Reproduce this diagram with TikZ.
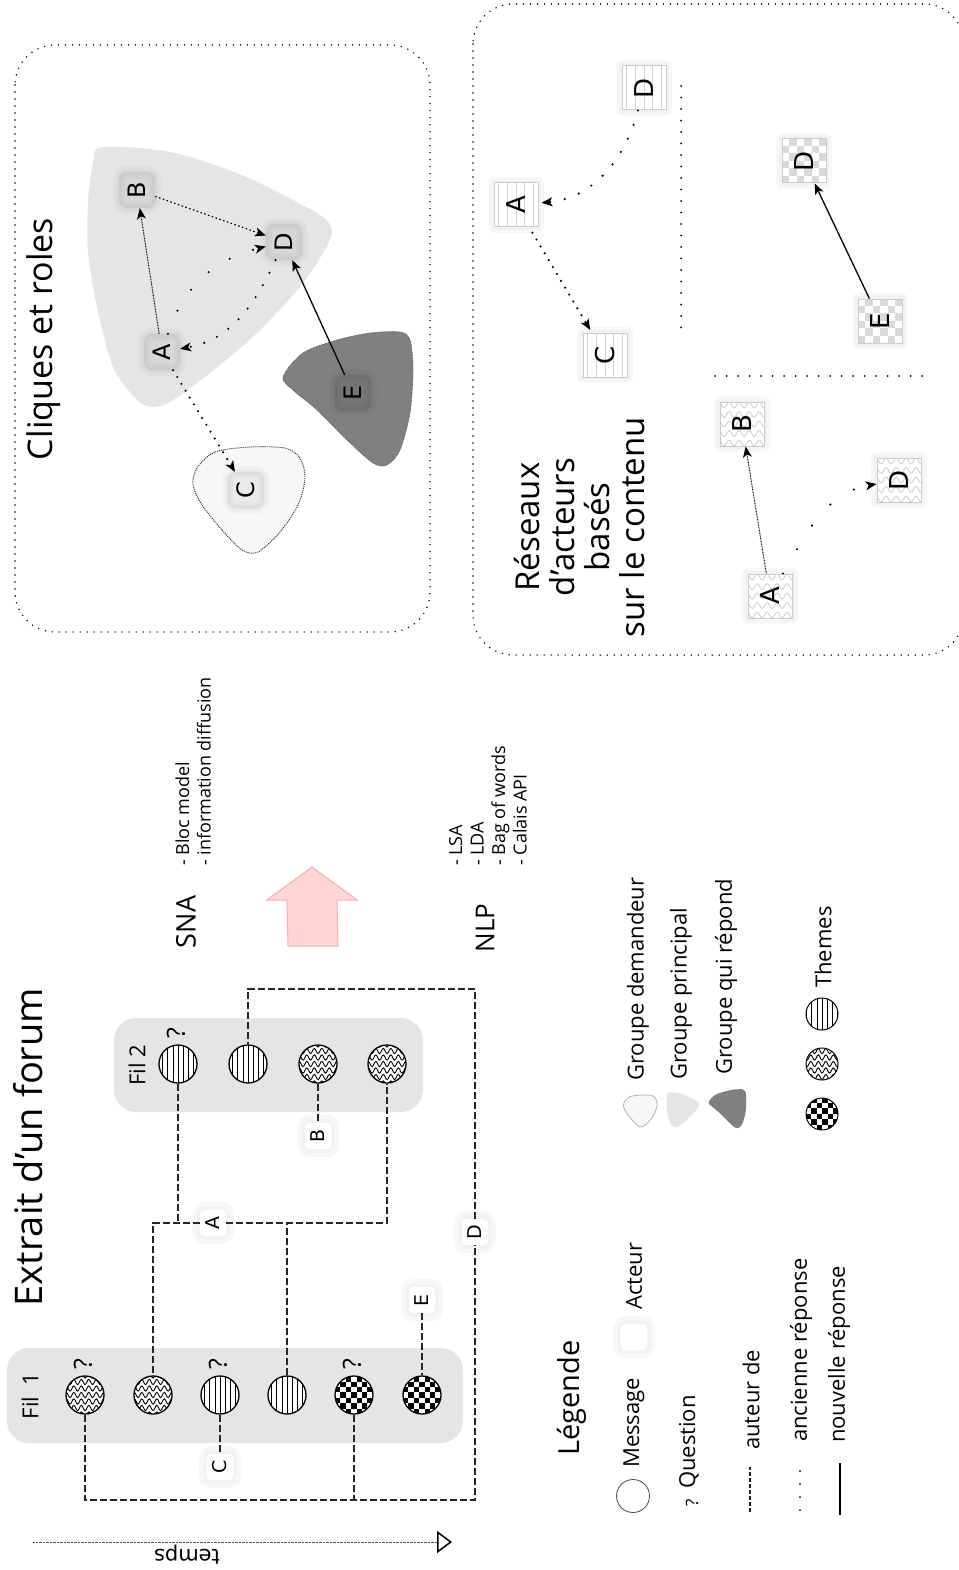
\documentclass[tikz,border=0pt]{standalone}
\usepackage{fontspec}
\setmainfont{Open Sans}
\newfontfamily\lettres{DejaVu Sans}
\usetikzlibrary{arrows.meta,decorations.pathmorphing}

\definecolor{rose}{HTML}{FFD5D5}
\definecolor{roseb}{HTML}{FFAAAA}

\newcommand\rot[1]{\rotatebox{90}{#1}}
\newcommand\taille[1]{\fontsize{#1}{#1}\selectfont}

\tikzset{
  % textes tournes
  texte/.style={rotate=90, inner sep=0pt, font=\taille{22}},
  liste/.style={rotate=90, inner sep=0pt, anchor=west, align=left, font=\fontsize{18}{21.5}\selectfont},
  question/.style={texte, font=\taille{25}},
  % motifs
  rayures/.style 2 args={path picture={\foreach \k in {-6,...,6}
      \draw[#1] ([xshift=\k*#2]path picture bounding box.center) ++(0pt,-40pt) -- ++(0pt,80pt);}},
  damier/.style 2 args={path picture={\foreach \i in {0,...,9} \foreach \j in {0,...,9} {
      \pgfmathtruncatemacro\m{mod(\i+\j,2)}
      \ifnum\m=0 \fill[#1] ([shift={(\i*#2,\j*#2)}]path picture bounding box.south west) rectangle +(#2,#2);\fi}}},
  vagues/.style 2 args={path picture={\foreach \k in {-5,...,5}
      \draw[decorate, #1] ([yshift=\k*#2]path picture bounding box.center) ++(-36pt,0pt) -- ++(72pt,0pt);}},
  ry/.style={rayures={line width=.5pt}{5.2pt}},
  dm/.style={damier={black}{5.4pt}},
  vg/.style={vagues={line width=.9pt, decoration={snake, segment length=7.5pt, amplitude=2.6pt}}{6.5pt}},
  rry/.style={rayures={black!18, line width=.8pt}{8.7pt}},
  rdm/.style={damier={black!15}{7.4pt}},
  rvg/.style={vagues={black!20, line width=.8pt, decoration={snake, segment length=10pt, amplitude=3pt}}{9.5pt}},
  % noeuds
  message/.style={circle, draw, line width=1.3pt, fill=white, minimum size=38pt, inner sep=0pt},
  facteur/.style={fill=white, rounded corners=4pt, minimum size=26pt, inner sep=0pt, font=\lettres\taille{19},
    preaction={draw=black!3, line width=16pt, line join=round},
    preaction={draw=black!5, line width=7pt, line join=round}},
  cnoeud/.style={fill=black, fill opacity=#1, text opacity=1, rounded corners=8pt, minimum size=36pt, inner sep=0pt,
    font=\lettres\taille{24},
    preaction={draw=black, draw opacity=.025, line width=12pt, line join=round},
    preaction={draw=black, draw opacity=.03, line width=5pt, line join=round}},
  rnoeud/.style={draw=black!20, line width=1pt, fill=white, minimum size=44pt, inner sep=0pt, font=\lettres\taille{26},
    preaction={draw=black!3, line width=12pt, line join=round},
    preaction={draw=black!5, line width=6pt}},
  % liens
  fleche/.style={-{Stealth[length=11pt, width=9pt, inset=3pt, line width=1pt]}},
  auteur/.style={line width=1.5pt, black!85, dash pattern=on 7pt off 3pt},
  nouveau/.style={fleche, line width=1.3pt},
  fin/.style={fleche, line width=1pt, dash pattern=on .8pt off .8pt},
  pointille/.style={fleche, line width=1.2pt, dash pattern=on 1.5pt off 2.5pt},
  pointsep/.style={line width=2.4pt, line cap=round, dash pattern=on 0pt off #1},
  ancien/.style={fleche, pointsep=#1},
  cadre/.style={line width=1.6pt, line cap=round, dash pattern=on 0pt off 7pt, rounded corners=40pt},
  separation/.style={line width=2pt, line cap=round, dash pattern=on 0pt off 11.5pt},
  temps/.style={line width=.8pt, black!70, dash pattern=on .8pt off .6pt,
    -{Triangle[open, length=15pt, width=22pt, line width=1.5pt, color=black]}},
  % formes des groupes
  pics/formeB/.style={code={\path[pic actions] plot[smooth cycle, tension=.5] coordinates {(-108,-130) (-40,-125) (27,-104) (77,-80) (113,-60) (122,-45) (113,-24) (90,10) (47,56) (0,96) (-40,125) (-58,130) (-73,123) (-97,90) (-113,30) (-122,-24) (-122,-74) (-117,-114)};}},
  pics/formeE/.style={code={\path[pic actions] plot[smooth cycle, tension=.5] coordinates {(-67,-23) (-47,-47) (-13,-60) (20,-67) (50,-68) (60,-60) (63,-30) (60,13) (50,50) (37,65) (23,63) (-3,40) (-33,10) (-57,-10)};}},
  pics/formeC/.style={code={\path[pic actions] plot[smooth cycle, tension=.5] coordinates {(-51,-32) (-33,-48) (2,-53) (37,-52) (52,-42) (57,-22) (50,5) (32,32) (10,52) (-6,50) (-26,30) (-46,5) (-55,-15)};}},
}

\begin{document}
\begin{tikzpicture}[x=1pt, y=-1pt]
\useasboundingbox (0,0) rectangle (958,1570);

% extrait du forum
\node[texte, font=\taille{38}] (titreforum) at (28,1147) {Extrait d'un forum};
\fill[black!10, rounded corners=22pt] (7,1348) rectangle (463,1443);
\fill[black!10, rounded corners=22pt] (114,1018) rectangle (423,1112);
\node[texte] (fil1) at (30,1396) {Fil~~1};
\node[texte] (fil2) at (137,1065) {Fil 2};
\foreach \n/\x/\m in {1/85/vg, 2/153/vg, 3/220/ry, 4/287/ry, 5/354/dm, 6/422/dm}
  \node[message, \m] (f1m\n) at (\x,1395) {};
\foreach \n/\x/\m in {1/178/ry, 2/248/ry, 3/318/vg, 4/387/vg}
  \node[message, \m] (f2m\n) at (\x,1064) {};
\foreach \c in {f1m1, f1m3, f1m5, f2m1}
  \node[question] (q\c) at ([xshift=-2pt, yshift=31pt]\c) {?};

\node[facteur] (fa) at (213,1223) {\rot{A}};
\node[facteur] (fb) at (318,1136) {\rot{B}};
\node[facteur] (fc) at (220,1467) {\rot{C}};
\node[facteur] (fd) at (475,1232) {\rot{D}};
\node[facteur] (fe) at (422,1300) {\rot{E}};
\coordinate (bd) at (475,1500);
\coordinate (hd) at (475,989);

\draw[auteur] (f1m1) |- (bd) -- (fd);
\draw[auteur] (f1m5) -- (f1m5 |- bd);
\draw[auteur] (fd) -- (hd) -| (f2m2);
\draw[auteur] (fa) -| (f1m2);
\draw[auteur] (fa) -| (f2m4);
\draw[auteur] (f2m1) -- (f2m1 |- fa);
\draw[auteur] (f1m4) -- (f1m4 |- fa);
\draw[auteur] (f2m3) -- (fb);
\draw[auteur] (f1m3) -- (fc);
\draw[auteur] (fe) -- (f1m6);

\coordinate (t0) at (33,1542);
\coordinate (t1) at (452,1542);
\draw[temps] (t0) -- (t1);
\node[rotate=180, inner sep=0pt, font=\lettres\taille{21}] (ltemps) at (187,1555) {temps};

% methodes
\node[texte, font=\taille{27}] (sna) at (186,922) {SNA};
\node[liste] (snaliste) at (193,866) {- Bloc model\\- information diffusion};
\fill[rose, draw=roseb, line width=1pt] (312,867) -- (357,900) -- (337,900) -- (338,946)
  -- (288,946) -- (287,900) -- (267,900) -- cycle;
\node[texte, font=\taille{26}] (nlp) at (485,928) {NLP};
\node[liste] (nlpliste) at (488,866) {- LSA\\- LDA\\- Bag of words\\- Calais API};

% legende
\node[texte, font=\taille{29}] (legende) at (572,1398) {Légende};
\node[message, line width=.8pt, draw=black!70, minimum size=33pt] (lmessage) at (633,1496) {};
\node[texte, anchor=west] (tmessage) at (634,1468) {Message};
\node[facteur] (lacteur) at (634,1337) {};
\node[texte, anchor=west] (tacteur) at (634,1310) {Acteur};
\node[question, font=\taille{17}] (lquestion) at (692,1503) {?};
\node[texte, anchor=west] (tquestion) at (689,1489) {Question};
\coordinate (la0) at (750,1512);
\coordinate (la1) at (750,1467);
\draw[auteur, line width=1.2pt, dash pattern=on 4pt off 2pt] (la0) -- (la1);
\node[texte, anchor=west] (tauteur) at (751,1450) {auteur de};
\coordinate (lb0) at (800,1510);
\coordinate (lb1) at (800,1467);
\draw[pointsep=13pt, line width=2pt] (lb0) -- (lb1);
\node[texte, anchor=west] (tancien) at (801,1442) {ancienne réponse};
\coordinate (lc0) at (840,1515);
\coordinate (lc1) at (840,1463);
\draw[line width=1.2pt] (lc0) -- (lc1);
\node[texte, anchor=west] (tnouveau) at (839,1443) {nouvelle réponse};

\pic[fill=black!3, draw=black!30, line width=.8pt, scale=.3] at (640,1111) {formeC};
\node[texte, anchor=west] (tdemandeur) at (638,1081) {Groupe demandeur};
\pic[fill=black!10, scale=.135] at (683,1110) {formeB};
\node[texte, anchor=west] (tprincipal) at (681,1080) {Groupe principal};
\pic[fill=black!50, scale=.29] at (728,1109) {formeE};
\node[texte, anchor=west] (trepond) at (726,1075) {Groupe qui répond};

\node[message, dm, minimum size=32pt, line width=1pt] (thdamier) at (822,1114) {};
\node[message, vg, minimum size=32pt, line width=1pt] (thvagues) at (822,1064) {};
\node[message, ry, minimum size=32pt, line width=1pt] (thrayures) at (822,1014) {};
\node[texte, anchor=west] (tthemes) at (823,988) {Themes};

% cliques et roles
\draw[cadre] (15,45) rectangle (430,632);
\node[texte, font=\taille{34}] (titrecliques) at (44,339) {Cliques et roles};
\pic[fill=black!10] at (210,277) {formeB};
\pic[fill=black!50, draw=black!62, line width=.8pt, dash pattern=on .8pt off .8pt] at (350,400) {formeE};
\pic[fill=black!3, draw=black!85, line width=.9pt, dash pattern=on 1pt off 1pt] at (248,500) {formeC};

\node[cnoeud=.06] (cb) at (137,190) {\rot{B}};
\node[cnoeud=.06] (cd) at (284,242) {\rot{D}};
\node[cnoeud=.06] (ca) at (162,352) {\rot{A}};
\node[cnoeud=.05] (cc) at (246,490) {\rot{C}};
\node[cnoeud=.08] (ce) at (353,393) {\rot{E}};

\draw[fin] (ca) -- (cb);
\draw[pointille] (cb) -- (cd);
\draw[ancien=25pt] (ca) to[out=72, in=194] (cd);
\draw[ancien=14pt] (cd) to[out=245, in=10] (ca);
\draw[ancien=8pt] (ca) -- (cc);
\draw[nouveau] (ce) -- (cd);

% reseaux bases sur le contenu
\draw[cadre] (473,4) rectangle (964,655);
\node[texte, font=\fontsize{33}{35}\selectfont, align=center] (titrereseaux) at (580,527)
  {Réseaux\\d'acteurs\\basés\\sur le contenu};
\coordinate (sv0) at (681,86);
\coordinate (sv1) at (681,337);
\coordinate (sh0) at (715,376);
\coordinate (sh1) at (932,376);
\draw[separation] (sv0) -- (sv1);
\draw[separation] (sh0) -- (sh1);

\node[rnoeud, rry] (ra) at (516,205) {\rot{A}};
\node[rnoeud, rry] (rc) at (605,355) {\rot{C}};
\node[rnoeud, rry] (rd) at (644,88) {\rot{D}};
\node[rnoeud, rdm] (dd) at (804,161) {\rot{D}};
\node[rnoeud, rdm] (de) at (880,321) {\rot{E}};
\node[rnoeud, rvg] (vb) at (742,424) {\rot{B}};
\node[rnoeud, rvg] (va) at (770,596) {\rot{A}};
\node[rnoeud, rvg] (vd) at (899,480) {\rot{D}};

\draw[ancien=15pt, shorten >=3pt] (rd) to[out=-105, in=5] (ra);
\draw[ancien=8pt, shorten <=6pt, shorten >=3pt] (ra) -- (rc);
\draw[nouveau] (de) -- (dd);
\draw[fin] (va) -- (vb);
\draw[ancien=28pt] (va) to[out=60, in=190] (vd);
\end{tikzpicture}
\end{document}
